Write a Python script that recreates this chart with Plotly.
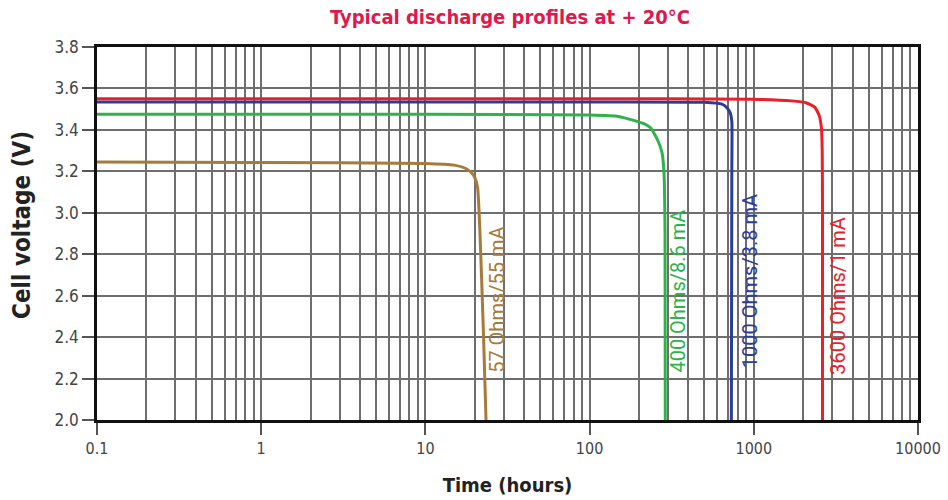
import math
import plotly.graph_objects as go

# Data
brown_t = [0.1, 1, 10, 15, 17.5, 19, 20, 20.8, 21.5, 22.5, 23.4]
brown_v = [3.245, 3.243, 3.238, 3.23, 3.215, 3.195, 3.17, 3.12, 2.9, 2.45, 2.0]
green_t = [0.1, 10, 100, 150, 214, 235, 260, 276, 284, 288, 289]
green_v = [3.475, 3.475, 3.472, 3.465, 3.43, 3.41, 3.35, 3.29, 3.19, 2.9, 2.0]
blue_t = [0.1, 100, 500, 640, 690, 720, 735, 735, 730]
blue_v = [3.535, 3.535, 3.533, 3.524, 3.505, 3.48, 3.44, 3.2, 2.0]
red_t = [0.1, 100, 1000, 1700, 2100, 2350, 2500, 2580, 2610, 2620, 2620]
red_v = [3.55, 3.55, 3.548, 3.54, 3.53, 3.51, 3.47, 3.41, 3.3, 3.0, 2.0]

labels = ["57 Ohms/55 mA", "400 Ohms/8.6 mA", "1000 Ohms/3.8 mA", "3600 Ohms/1 mA"]
label_t = [27.3, 341, 948, 3258]
label_v = [2.58, 2.62, 2.67, 2.60]
colors = ["#a87a3a", "#2db34a", "#2b3d9b", "#e8202a"]

x_ticks = [0.1, 1, 10, 100, 1000, 10000]
x_tick_text = ["0.1", "1", "10", "100", "1000", "10000"]
y_ticks = [2.0, 2.2, 2.4, 2.6, 2.8, 3.0, 3.2, 3.4, 3.6, 3.8]

minor_vals = [m * 10 ** e for e in range(-1, 4) for m in range(2, 10)]

fig = go.Figure()
series = [(brown_t, brown_v), (green_t, green_v), (blue_t, blue_v), (red_t, red_v)]
for (t, v), c in zip(series, colors):
    fig.add_trace(go.Scatter(x=t, y=v, mode="lines", line=dict(color=c, width=3, shape="spline", smoothing=0.5),
                             showlegend=False, hoverinfo="skip"))

for txt, t, v, c in zip(labels, label_t, label_v, colors):
    fig.add_annotation(x=math.log10(t), y=v, xref="x", yref="y", text=txt, showarrow=False, textangle=-90,
                       font=dict(family="Roboto, 'Open Sans', sans-serif", size=20, color=c))

cond = "DejaVu Sans Condensed, sans-serif"

# y-axis title placed as a paper annotation
fig.add_annotation(x=-0.0914, y=0.523, xref="paper", yref="paper", text="<b>Cell voltage (V)</b>",
                   showarrow=False, textangle=-90, xanchor="center", yanchor="middle",
                   font=dict(family=cond, size=24, color="#222"))

fig.update_layout(
    width=948, height=500,
    margin=dict(l=97, r=30, t=47, b=80),
    paper_bgcolor="white", plot_bgcolor="white",
    title=dict(text="<b>Typical discharge profiles at + 20°C</b>", x=0.538, xanchor="center", y=0.966, yanchor="middle",
               font=dict(family=cond, size=20, color="#e3174b")),
    xaxis=dict(type="log", range=[-1, 4], tickvals=x_ticks, ticktext=x_tick_text, automargin=False,
               showgrid=True, gridcolor="#6e6e6e", gridwidth=1.5,
               minor=dict(tickvals=minor_vals, showgrid=True, gridcolor="#6e6e6e", gridwidth=1.5, ticks=""),
               ticks="outside", ticklen=12, tickwidth=1.5, tickcolor="#555",
               showline=True, linecolor="#111", linewidth=2.5, mirror=True,
               tickfont=dict(family=cond, size=16, color="#444"),
               title=dict(text="<b>Time (hours)</b>", font=dict(family=cond, size=20, color="#222"), standoff=22),
               zeroline=False, layer="above traces"),
    yaxis=dict(range=[2.0, 3.8], tickvals=y_ticks, tickformat=".1f", automargin=False,
               showgrid=True, gridcolor="#6e6e6e", gridwidth=1.5,
               ticks="outside", ticklen=12, tickwidth=1.5, tickcolor="#555",
               showline=True, linecolor="#111", linewidth=2.5, mirror=True,
               tickfont=dict(family=cond, size=17, color="#444"),
               zeroline=False, layer="above traces"),
)

fig.write_html("out.html", config={"displayModeBar": False},
               post_script="document.body.style.margin='0';")
